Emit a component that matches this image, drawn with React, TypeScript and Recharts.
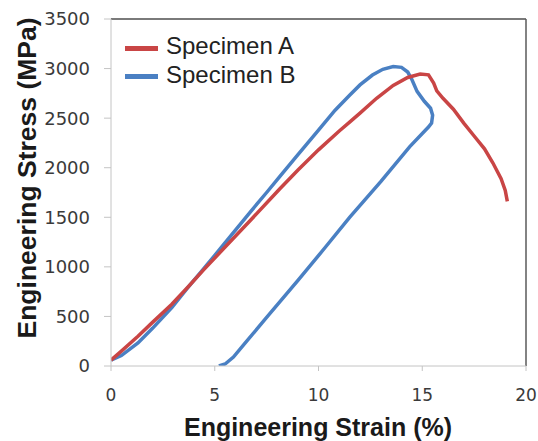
import React from "react";
import { LineChart, Line, XAxis, YAxis, ReferenceLine, Legend } from "recharts";

// Specimen A (red)
const strainA = [0, 0.5, 1.3, 2.0, 2.93, 3.7, 4.45, 5.5, 6.7, 8.15, 9.0, 10.0, 11.0, 11.5, 12.0, 12.8, 13.6, 14.3, 14.9, 15.3, 15.55, 15.7, 16.0, 16.5, 17.0, 17.5, 18.0, 18.4, 18.8, 19.0, 19.1];
const stressA = [60, 150, 300, 440, 623, 795, 967, 1200, 1465, 1790, 1975, 2180, 2370, 2460, 2550, 2700, 2830, 2910, 2945, 2937, 2853, 2775, 2700, 2590, 2450, 2320, 2190, 2050, 1890, 1770, 1660];

// Specimen B (blue) – loading, peak, then the unloading branch back to zero
const strainB = [0, 0.5, 1.3, 2.0, 2.93, 3.7, 4.4, 5.0, 5.8, 6.7, 7.5, 8.15, 9.0, 10.0, 10.8, 11.5, 12.0, 12.6, 13.1, 13.6, 14.0, 14.3, 14.5, 14.75, 15.1, 15.4, 15.5, 15.45, 15.3, 14.4, 13.0, 11.5, 10.3, 9.0, 7.5, 6.5, 5.9, 5.5, 5.2];
const stressB = [60, 105, 233, 380, 590, 790, 965, 1115, 1320, 1550, 1750, 1915, 2130, 2380, 2580, 2730, 2835, 2935, 2993, 3020, 3012, 2965, 2890, 2770, 2670, 2600, 2530, 2450, 2410, 2213, 1860, 1500, 1190, 860, 490, 240, 90, 20, 0];

const xTicks = [0, 5, 10, 15, 20];
const yTicks = [0, 500, 1000, 1500, 2000, 2500, 3000, 3500];

const RED = "#c94545";
const BLUE = "#4a80c3";

const toPoints = (xs: number[], ys: number[]) => xs.map((x, i) => ({ x, y: ys[i] }));

const seriesA = toPoints(strainA, stressA);
const seriesB = toPoints(strainB, stressB);

const legendItems = [
  { name: "Specimen A", color: RED },
  { name: "Specimen B", color: BLUE },
];

function LegendBox() {
  return (
    <div style={{ fontFamily: "'Liberation Sans', Arial, sans-serif", fontSize: 24, color: "#222" }}>
      {legendItems.map((it) => (
        <div key={it.name} style={{ display: "flex", alignItems: "center", height: 28.5, lineHeight: "28.5px", whiteSpace: "nowrap" }}>
          <div style={{ width: 33, height: 5, background: it.color, marginTop: 4, marginRight: 8 }} />
          <span>{it.name}</span>
        </div>
      ))}
    </div>
  );
}

const tickStyle = { fontFamily: "'DejaVu Sans', sans-serif", fill: "#3a3a3a" };

export default function App() {
  return (
    <div style={{ position: "absolute", left: 0, top: 0, width: 538, height: 441, background: "#fff" }}>
      <LineChart width={538} height={441} margin={{ top: 19, right: 12, bottom: 0, left: 0 }}>
        <XAxis
          type="number"
          dataKey="x"
          domain={[0, 20]}
          ticks={xTicks}
          allowDataOverflow
          height={75}
          tickSize={5}
          tickMargin={18}
          axisLine={{ stroke: "#c4c4c4" }}
          tickLine={{ stroke: "#c4c4c4" }}
          tick={{ ...tickStyle, fontSize: 17 }}
          label={() => (
            <text x={318} y={436} textAnchor="middle" fontFamily="'Liberation Sans', Arial, sans-serif" fontWeight="bold" fontSize={25} fill="#1a1a1a">
              Engineering Strain (%)
            </text>
          )}
        />
        <YAxis
          type="number"
          dataKey="y"
          domain={[0, 3500]}
          ticks={yTicks}
          allowDataOverflow
          width={111}
          tickSize={7}
          tickMargin={14}
          axisLine={{ stroke: "#c4c4c4" }}
          tickLine={{ stroke: "#c4c4c4" }}
          tick={{ ...tickStyle, fontSize: 18 }}
          label={() => (
            <text
              x={27}
              y={178}
              transform="rotate(-90 27 178)"
              textAnchor="middle"
              dominantBaseline="central"
              fontFamily="'Liberation Sans', Arial, sans-serif"
              fontWeight="bold"
              fontSize={26.5}
              fill="#1a1a1a"
            >
              Engineering Stress (MPa)
            </text>
          )}
        />
        <ReferenceLine y={3500} stroke="#7a7a7a" strokeWidth={2} />
        <ReferenceLine x={20} stroke="#5a5a5a" strokeWidth={1.5} />
        <Legend
          layout="horizontal"
          verticalAlign="middle"
          align="center"
          content={() => <LegendBox />}
          wrapperStyle={{ position: "absolute", left: 125, top: 32, width: "auto" }}
        />
        <Line data={seriesB} dataKey="y" name="Specimen B" type="linear" stroke={BLUE} strokeWidth={3.5} dot={false} isAnimationActive={false} />
        <Line data={seriesA} dataKey="y" name="Specimen A" type="linear" stroke={RED} strokeWidth={3.5} dot={false} isAnimationActive={false} />
      </LineChart>
    </div>
  );
}
